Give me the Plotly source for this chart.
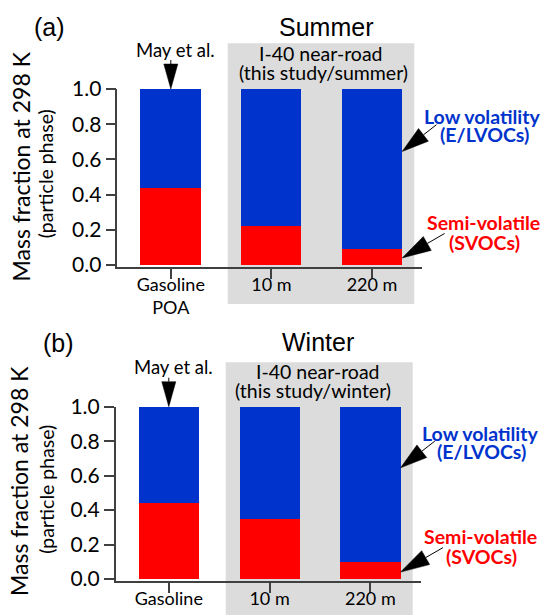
import math
import plotly.graph_objects as go

# ---------------- data ----------------
categories = ["Gasoline<br>POA", "10 m", "220 m"]
summer_svoc = [0.44, 0.22, 0.09]
summer_lvoc = [0.56, 0.78, 0.91]
winter_svoc = [0.44, 0.35, 0.10]
winter_lvoc = [0.56, 0.65, 0.90]
y_tick_vals = [0.0, 0.2, 0.4, 0.6, 0.8, 1.0]
y_tick_text = ["0.0", "0.2", "0.4", "0.6", "0.8", "1.0"]
panel_titles = ["Summer", "Winter"]
panel_labels = ["(a)", "(b)"]
site_lines = [["I-40 near-road", "(this study/summer)"],
              ["I-40 near-road", "(this study/winter)"]]

# ---------------- style ----------------
W, H = 541, 615
BLUE = "#0033CC"
RED = "#FF0000"
GRAY = "#DCDCDC"
AXIS = "#404040"
FONT = "Lato"
TFONT = "Liberation Sans"
BAR_W = 0.6


def px(x):
    return x / W


def py(y):
    return 1 - y / H


fig = go.Figure()
x_idx = list(range(len(categories)))
for svoc, lvoc, xa, ya in [(summer_svoc, summer_lvoc, "x", "y"),
                           (winter_svoc, winter_lvoc, "x2", "y2")]:
    fig.add_bar(x=x_idx, y=svoc, marker_color=RED, width=BAR_W, xaxis=xa,
                yaxis=ya, showlegend=False, marker_line_width=0)
    fig.add_bar(x=x_idx, y=lvoc, marker_color=BLUE, width=BAR_W, xaxis=xa,
                yaxis=ya, showlegend=False, marker_line_width=0)

axis_common = dict(showline=True, linecolor=AXIS, linewidth=1.5, ticks="outside",
                   ticklen=10, tickwidth=1.5, tickcolor=AXIS, showgrid=False,
                   zeroline=False, fixedrange=True, automargin=False)

# panel geometry (pixels): x-domain left/right, y-domain bottom/top
panels = [dict(xl=117.3, xr=422.3, yb=267.3, yt=89.0, xr0=-0.532, xr1=2.5, ymin=-0.0131),
          dict(xl=115.7, xr=420.7, yb=581.3, yt=406.7, xr0=-0.527, xr1=2.5, ymin=-0.0133)]

layout = dict(width=W, height=H, margin=dict(l=0, r=0, t=0, b=0, pad=0, autoexpand=False),
              paper_bgcolor="white", plot_bgcolor="rgba(0,0,0,0)",
              barmode="stack", bargap=0, showlegend=False)
for i, p in enumerate(panels):
    sfx = "" if i == 0 else "2"
    layout["xaxis" + sfx] = dict(domain=[px(p["xl"]), px(p["xr"])], range=[p["xr0"], p["xr1"]],
                                 tickvals=x_idx, ticktext=categories, anchor="y" + sfx,
                                 tickfont=dict(family=FONT, size=18, color="black"),
                                 ticklabelstandoff=-10, **axis_common)
    layout["yaxis" + sfx] = dict(domain=[py(p["yb"]), py(p["yt"])], range=[p["ymin"], 1.0],
                                 tickvals=y_tick_vals, ticktext=y_tick_text, anchor="x" + sfx,
                                 tickfont=dict(family=FONT, size=21, color="black"),
                                 ticklabelstandoff=0, **axis_common)
fig.update_layout(**layout)


def to_paper(panel, xv, yv):
    """map data values of a panel to paper coordinates through its axes"""
    p = panels[panel]
    x0, x1 = px(p["xl"]), px(p["xr"])
    y0, y1 = py(p["yb"]), py(p["yt"])
    fx = (xv - p["xr0"]) / (p["xr1"] - p["xr0"])
    fy = (yv - p["ymin"]) / (1.0 - p["ymin"])
    return x0 + fx * (x1 - x0), y0 + fy * (y1 - y0)


# gray background for the near-road study
fig.add_shape(type="rect", xref="paper", yref="paper", x0=px(227.7), x1=px(414.3),
              y0=py(304), y1=py(43.3), fillcolor=GRAY, line_width=0, layer="below")
fig.add_shape(type="rect", xref="paper", yref="paper", x0=px(225.7), x1=px(412.7),
              y0=0, y1=py(362.3), fillcolor=GRAY, line_width=0, layer="below")


def arrow(panel, xv, yv, angle_deg, head_len, half_w, total_len):
    xa, ya = to_paper(panel, xv, yv)
    a = math.radians(angle_deg)
    ux, uy = math.cos(a), math.sin(a)
    nx, ny = -uy, ux
    bx, by = ux * head_len, uy * head_len
    tri = (f"M0,0 L{bx + nx * half_w:.2f},{by + ny * half_w:.2f} "
           f"L{bx - nx * half_w:.2f},{by - ny * half_w:.2f} Z")
    fig.add_shape(type="path", xref="paper", yref="paper", xsizemode="pixel",
                  ysizemode="pixel", xanchor=xa, yanchor=ya, path=tri,
                  fillcolor="black", line=dict(color="black", width=0.5))
    stem = f"M{bx:.2f},{by:.2f} L{ux * total_len:.2f},{uy * total_len:.2f}"
    fig.add_shape(type="path", xref="paper", yref="paper", xsizemode="pixel",
                  ysizemode="pixel", xanchor=xa, yanchor=ya, path=stem,
                  line=dict(color="black", width=1))


right_edge = x_idx[-1] + BAR_W / 2
for k in range(2):
    arrow(k, x_idx[0], 1.0, 90, 25, 7, 29)
    arrow(k, right_edge, 0.645, 38, 27, 8, 43.5)
    arrow(k, right_edge, 0.04, 30, 29, 8, 49)


def txt(text, x, y, size, color="black", bold=False, angle=0, family=FONT):
    if bold:
        text = f"<b>{text}</b>"
    fig.add_annotation(text=text, x=px(x), y=py(y), xref="paper", yref="paper",
                       xanchor="center", yanchor="middle", showarrow=False,
                       textangle=angle, font=dict(family=family, size=size, color=color))


ya_c = [(20.5, 167), (45.7, 173.5)]
yb_c = [(19.0, 481), (45.7, 489)]
for yc in (ya_c, yb_c):
    txt("Mass fraction at 298 K", yc[0][0], yc[0][1], 23, angle=-90)
    txt("(particle phase)", yc[1][0], yc[1][1], 19.5, angle=-90)

txt(panel_labels[0], 49, 26.5, 25, family=TFONT)
txt(panel_titles[0], 325.5, 27, 25, family=TFONT)
txt("May et al.", 175, 50, 18.5)
txt(site_lines[0][0], 320.8, 53, 19.5)
txt(site_lines[0][1], 323.3, 73, 19.5)
txt("Low volatility", 482, 116.7, 19.5, BLUE, True)
txt("(E/LVOCs)", 484, 135, 19.5, BLUE, True)
txt("Semi-volatile", 483, 222.7, 19.5, RED, True)
txt("(SVOCs)", 484.5, 242.7, 19.5, RED, True)

txt(panel_labels[1], 58, 343.3, 25, family=TFONT)
txt(panel_titles[1], 318, 341.7, 25, family=TFONT)
txt("May et al.", 173, 366.7, 18.5)
txt(site_lines[1][0], 318, 371.7, 19.5)
txt(site_lines[1][1], 313.3, 390, 19.5)
txt("Low volatility", 480, 433.3, 19.5, BLUE, True)
txt("(E/LVOCs)", 481, 451.7, 19.5, BLUE, True)
txt("Semi-volatile", 480.5, 536.7, 19.5, RED, True)
txt("(SVOCs)", 481.5, 556.7, 19.5, RED, True)

fig.write_html("out.html", config={"displayModeBar": False},
               post_script="document.body.style.margin='0';")
